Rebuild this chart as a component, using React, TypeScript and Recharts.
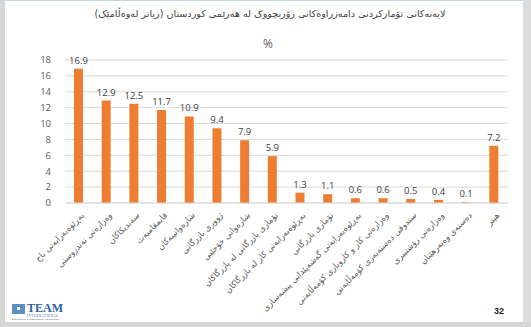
import { BarChart, Bar, XAxis, YAxis, CartesianGrid, LabelList } from 'recharts'

const categories = [
  'بەڕێوەبەرایەتی باج',
  'وەزارەتی تەندروستی',
  'سەندیکاکان',
  'قایمقامیەت',
  'شارەوانییەکان',
  'ژووری بازرگانی',
  'شارەوانی خۆجێیی',
  'تۆماری بازرگانی لە بازرگاکان',
  'بەڕێوەبەرایەتی کار لە بازرگاکان',
  'تۆماری بازرگانی',
  'بەڕێوەبەرایەتی گەشەپێدانی پیشەسازی',
  'وەزارەتی کار و کاروباری کۆمەڵایەتی',
  'سندوقی دەستەبەری کۆمەڵایەتی',
  'وەزارەتی رۆشنبیری',
  'دەستەی وەبەرهێنان',
  'هیتر',
]

const values = [16.9, 12.9, 12.5, 11.7, 10.9, 9.4, 7.9, 5.9, 1.3, 1.1, 0.6, 0.6, 0.5, 0.4, 0.1, 7.2]

const yTicks = [0, 2, 4, 6, 8, 10, 12, 14, 16, 18]

const data = categories.map((name, i) => ({ name, value: values[i] }))

const NUM_FONT = 'Open Sans, sans-serif'
const AR_FONT = 'DejaVu Sans, sans-serif'

function CategoryTick({ x, y, payload }: any) {
  return (
    <g transform={`translate(${x + 3},${y + 2})`}>
      <text
        x={0}
        y={0}
        dy={4}
        transform="rotate(-45)"
        textAnchor="end"
        fontSize={8.4}
        fontFamily={AR_FONT}
        fill="#595959"
      >
        {payload.value}
      </text>
    </g>
  )
}

export default function App() {
  return (
    <div
      style={{
        position: 'absolute',
        left: 0,
        top: 0,
        width: 531,
        height: 327,
        background: '#fff',
        overflow: 'hidden',
      }}
    >
      {/* slide frame */}
      <div style={{ position: 'absolute', left: 0, top: 0, width: 5, height: 327, background: '#d6d6d6' }} />
      <div style={{ position: 'absolute', left: 523, top: 0, width: 8, height: 327, background: '#dcdcdc' }} />
      <div style={{ position: 'absolute', left: 0, top: 322, width: 531, height: 5, background: '#d6d6d6' }} />
      <div style={{ position: 'absolute', left: 0, top: 0, width: 523, height: 1, background: '#bcd6ea' }} />

      <div
        style={{
          position: 'absolute',
          left: 0,
          top: 8,
          width: 540,
          textAlign: 'center',
          fontFamily: AR_FONT,
          fontSize: 9.6,
          color: '#404040',
          direction: 'rtl',
        }}
      >
        لایەنەکانی تۆمارکردنی دامەزراوەکانی زۆربچووک لە هەرێمی کوردستان (زیاتر لەوەڵامێک)
      </div>
      <div
        style={{
          position: 'absolute',
          left: 0,
          top: 35,
          width: 536,
          textAlign: 'center',
          fontFamily: NUM_FONT,
          fontSize: 12,
          color: '#595959',
        }}
      >
        %
      </div>

      <div style={{ position: 'absolute', left: 0, top: 0 }}>
        <BarChart
          width={531}
          height={327}
          data={data}
          margin={{ top: 60, right: 23, bottom: 0, left: 20 }}
        >
          <CartesianGrid vertical={false} stroke="#d9d9d9" />
          <XAxis
            dataKey="name"
            interval={0}
            height={124}
            tick={<CategoryTick />}
            tickLine={false}
            axisLine={{ stroke: '#d9d9d9' }}
          />
          <YAxis
            domain={[0, 18]}
            ticks={yTicks}
            interval={0}
            width={45}
            tickLine={false}
            axisLine={false}
            tick={{ fontSize: 9.5, fill: '#595959', fontFamily: NUM_FONT }}
            tickMargin={8}
          />
          <Bar dataKey="value" fill="#ED7D31" barSize={9} isAnimationActive={false}>
            <LabelList
              dataKey="value"
              position="top"
              offset={5}
              style={{ fontSize: 9.5, fill: '#404040', fontFamily: NUM_FONT }}
            />
          </Bar>
        </BarChart>
      </div>

      {/* logo */}
      <div style={{ position: 'absolute', left: 12, top: 302, display: 'flex', alignItems: 'flex-start' }}>
        <div style={{ width: 13, height: 10, background: '#5b8fc7', marginTop: 2, marginRight: 2, position: 'relative' }}>
          <div style={{ position: 'absolute', left: 5, top: 3, width: 3, height: 3, background: '#fff' }} />
        </div>
        <div>
          <div style={{ fontFamily: 'Liberation Serif, serif', fontSize: 12, fontWeight: 'bold', color: '#2e5f9e', lineHeight: '12px' }}>
            TEAM
          </div>
          <div style={{ fontFamily: 'Liberation Serif, serif', fontSize: 3, color: '#2e5f9e', letterSpacing: 0.6, lineHeight: '4px' }}>
            INTERNATIONAL
          </div>
        </div>
      </div>
      <div style={{ position: 'absolute', left: 12, top: 317, fontSize: 2.5, fontFamily: NUM_FONT, color: '#555' }}>
        Engineering & Management Consultants
      </div>

      <div
        style={{
          position: 'absolute',
          left: 494,
          top: 306,
          fontFamily: 'Liberation Sans, sans-serif',
          fontWeight: 'bold',
          fontSize: 9,
          color: '#222',
        }}
      >
        32
      </div>
    </div>
  )
}
